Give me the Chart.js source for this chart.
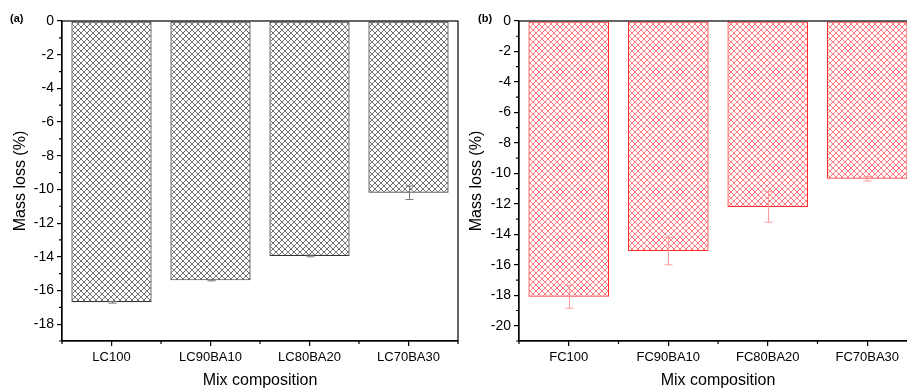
<!DOCTYPE html>
<html>
<head>
<meta charset="utf-8">
<script src="https://cdn.jsdelivr.net/npm/chart.js@4.4.1/dist/chart.umd.min.js"></script>
<style>
  html, body { margin: 0; padding: 0; background: #fff; overflow: hidden; width: 907px; height: 390px; }
  canvas { position: absolute; top: 0; }
  #chartA { left: 0; }
  #chartB { left: 455px; }
</style>
</head>
<body>
<canvas id="chartA" width="470" height="390"></canvas>
<canvas id="chartB" width="470" height="390"></canvas>
<script>
// panel (a)
const catsA = ['LC100', 'LC90BA10', 'LC80BA20', 'LC70BA30'];
const lossA = [-16.7, -15.4, -13.95, -10.2];
const errA = [0.05, 0.03, 0.05, 0.4];
const yTicksA = [0, -2, -4, -6, -8, -10, -12, -14, -16, -18];
const yMinorA = [-1, -3, -5, -7, -9, -11, -13, -15, -17, -19];

// panel (b)
const catsB = ['FC100', 'FC90BA10', 'FC80BA20', 'FC70BA30'];
const lossB = [-18.1, -15.1, -12.2, -10.35];
const errB = [0.75, 0.9, 1.0, 0.15];
const yTicksB = [0, -2, -4, -6, -8, -10, -12, -14, -16, -18, -20];
const yMinorB = [-1, -3, -5, -7, -9, -11, -13, -15, -17, -19, -21];

const FONT = '"Liberation Sans", Arial, sans-serif';

function hatch(color) {
    const s = 6;
    const c = document.createElement('canvas');
    c.width = s; c.height = s;
    const g = c.getContext('2d');
    g.fillStyle = '#fff';
    g.fillRect(0, 0, s, s);
    g.strokeStyle = color;
    g.lineWidth = 0.75;
    g.beginPath();
    g.moveTo(-1, -1); g.lineTo(s + 1, s + 1);
    g.moveTo(s + 1, -1); g.lineTo(-1, s + 1);
    g.stroke();
    return g.createPattern(c, 'repeat');
}

// frame, minor ticks, error bars and panel letter
const extras = {
    id: 'extras',
    afterDatasetsDraw(chart, args, opts) {
        const { ctx, scales: { x, y } } = chart;
        ctx.save();
        ctx.strokeStyle = opts.errColor;
        ctx.lineWidth = 1;
        opts.values.forEach((v, i) => {
            const px = Math.round(x.getPixelForValue(i)) + 0.5;
            const y1 = y.getPixelForValue(v - opts.errors[i]);
            const y2 = y.getPixelForValue(v + opts.errors[i]);
            ctx.beginPath();
            ctx.moveTo(px, y1); ctx.lineTo(px, y2);
            ctx.moveTo(px - 4, y1); ctx.lineTo(px + 4, y1);
            ctx.moveTo(px - 4, y2); ctx.lineTo(px + 4, y2);
            ctx.stroke();
        });
        ctx.restore();
    },
    afterDraw(chart, args, opts) {
        const { ctx, chartArea: a, scales: { x, y } } = chart;
        ctx.save();
        ctx.strokeStyle = '#000';
        ctx.lineWidth = 1.2;
        ctx.strokeRect(a.left, a.top, a.right - a.left, a.bottom - a.top);
        ctx.beginPath();
        opts.minorY.forEach(v => {
            const py = y.getPixelForValue(v);
            ctx.moveTo(a.left - 3, py); ctx.lineTo(a.left, py);
        });
        for (let i = 0; i <= opts.values.length; i++) {
            const px = x.getPixelForValue(i - 0.5);
            ctx.moveTo(px, a.bottom); ctx.lineTo(px, a.bottom + 3);
        }
        ctx.stroke();
        ctx.fillStyle = '#000';
        ctx.font = 'bold 11px ' + FONT;
        ctx.textBaseline = 'middle';
        ctx.fillText(opts.letter, opts.letterX, opts.letterY);
        ctx.restore();
    }
};

function makeChart(id, cats, values, errors, yTicks, minorY, yMin, color, border, errColor, letter, letterX, titlePad, padRight, yWidth) {
    return new Chart(document.getElementById(id), {
        type: 'bar',
        data: {
            labels: cats,
            datasets: [{
                data: values,
                backgroundColor: hatch(color),
                borderColor: border,
                borderWidth: 1.2,
                borderSkipped: false,
                barPercentage: 0.81,
                categoryPercentage: 1.0
            }]
        },
        options: {
            responsive: false,
            animation: false,
            layout: { padding: { top: 21, right: padRight, left: 0, bottom: 0 } },
            plugins: {
                legend: { display: false },
                tooltip: { enabled: false },
                extras: { values: values, errors: errors, minorY: minorY, errColor: errColor, letter: letter, letterX: letterX, letterY: 19 }
            },
            scales: {
                x: {
                    grid: { display: true, drawOnChartArea: false, offset: false, tickLength: 5, color: '#000', lineWidth: 1.2 },
                    border: { display: true, color: '#000', width: 1.2 },
                    ticks: { color: '#000', font: { family: FONT, size: 13 }, padding: 4, maxRotation: 0 },
                    title: { display: true, text: 'Mix composition', color: '#000', font: { family: FONT, size: 16 }, padding: { top: 0, bottom: 0 } },
                    afterFit: s => { s.height = 49; }
                },
                y: {
                    min: yMin,
                    max: 0,
                    afterBuildTicks: s => { s.ticks = yTicks.map(v => ({ value: v })); },
                    grid: { display: true, drawOnChartArea: false, tickLength: 5, color: '#000', lineWidth: 1.2 },
                    border: { display: true, color: '#000', width: 1.2 },
                    ticks: { color: '#000', font: { family: FONT, size: 14 }, padding: 3 },
                    title: { display: true, text: 'Mass loss (%)', color: '#000', font: { family: FONT, size: 16 }, padding: { top: titlePad, bottom: 0 } },
                    afterFit: s => { s.width = yWidth; }
                }
            }
        },
        plugins: [extras]
    });
}

makeChart('chartA', catsA, lossA, errA, yTicksA, yMinorA, -19, '#444', '#333', '#777', '(a)', 10, 11, 12, 62);
makeChart('chartB', catsB, lossB, errB, yTicksB, yMinorB, -21, '#ff4d4d', '#ff2a2a', '#ff9a9a', '(b)', 23, 12, 8, 64);
</script>
</body>
</html>
